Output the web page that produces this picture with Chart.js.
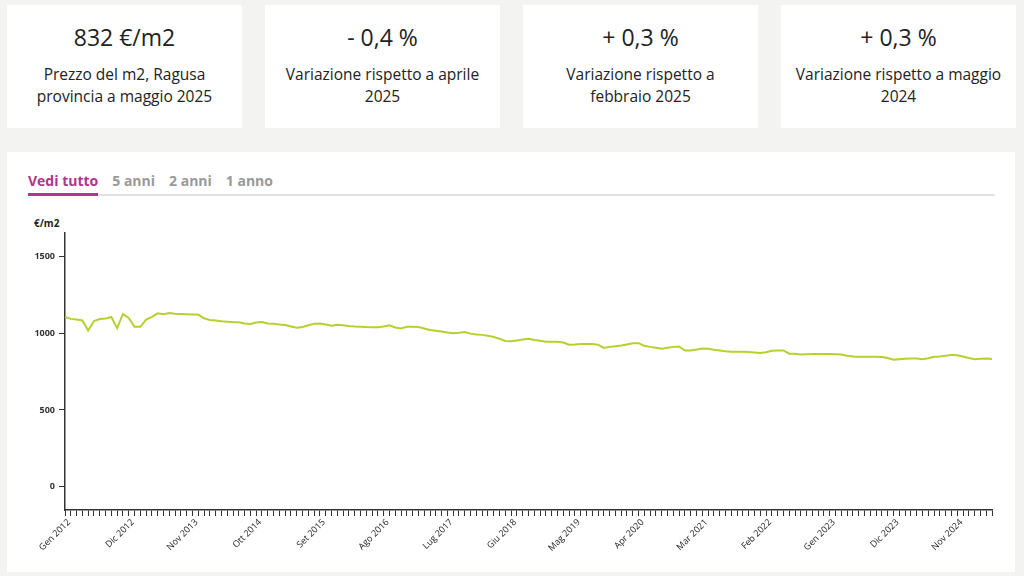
<!DOCTYPE html>
<html lang="it">
<head>
<meta charset="utf-8">
<title>Prezzo del m2, Ragusa provincia</title>
<script src="https://cdn.jsdelivr.net/npm/chart.js@4"></script>
<style>
  html, body { margin: 0; padding: 0; }
  body {
    width: 1024px; height: 576px; overflow: hidden; position: relative;
    background: #f3f3f1; font-family: "Open Sans", "Noto Sans", sans-serif; color: #222;
  }
  .card {
    position: absolute; top: 5px; width: 235px; height: 123px; background: #fff;
    text-align: center; box-sizing: border-box; padding: 0 6px; white-space: nowrap;
  }
  .card .big { margin-top: 17px; font-size: 23px; line-height: 30px; }
  .card .desc { margin-top: 11px; font-size: 15.5px; line-height: 22px; }
  .panel {
    position: absolute; left: 7px; top: 152px; width: 1008px; height: 420px; background: #fff;
  }
  .tabs { position: absolute; left: 21px; top: 19px; font-size: 14px; font-weight: bold; }
  .tabs span { margin-right: 14px; color: #999; }
  .tabs span.on { color: #b3338b; }
  .tabline { position: absolute; left: 21px; top: 42px; width: 967px; height: 2px; background: #e2e2e2; }
  .tabline div { position: absolute; left: 0; top: -1px; width: 70px; height: 3px; background: #b3338b; }
  .unit { position: absolute; left: 27px; top: 64px; font-size: 10px; font-weight: bold; color: #222; }
  #wrap { position: absolute; left: 0; top: 48px; width: 1008px; height: 372px; }
</style>
</head>
<body>
<div class="card" style="left:7px"><div class="big">832 €/m2</div><div class="desc">Prezzo del m2, Ragusa<br>provincia a maggio 2025</div></div>
<div class="card" style="left:265px"><div class="big">- 0,4 %</div><div class="desc">Variazione rispetto a aprile<br>2025</div></div>
<div class="card" style="left:523px"><div class="big">+ 0,3 %</div><div class="desc">Variazione rispetto a<br>febbraio 2025</div></div>
<div class="card" style="left:781px"><div class="big">+ 0,3 %</div><div class="desc">Variazione rispetto a maggio<br>2024</div></div>

<div class="panel">
  <div class="tabs"><span class="on">Vedi tutto</span><span>5 anni</span><span>2 anni</span><span>1 anno</span></div>
  <div class="tabline"><div></div></div>
  <div class="unit">€/m2</div>
  <div id="wrap"><canvas id="priceChart"></canvas></div>
</div>

<script>
// month names used in the axis labels
const monthNames = ['Gen', 'Feb', 'Mar', 'Apr', 'Mag', 'Giu', 'Lug', 'Ago', 'Set', 'Ott', 'Nov', 'Dic'];
const startYear = 2012;

// €/m2, monthly from Gen 2012 to Mag 2025
const prices = [
  1104, 1092, 1088, 1082, 1016, 1078, 1091, 1094, 1104, 1032, 1124, 1098,
  1040, 1040, 1087, 1105, 1128, 1122, 1130, 1126, 1124, 1122, 1120, 1120,
  1096, 1085, 1082, 1076, 1074, 1070, 1070, 1062, 1059, 1068, 1072, 1062,
  1061, 1056, 1052, 1042, 1034, 1039, 1050, 1060, 1062, 1056, 1048, 1054,
  1050, 1046, 1043, 1041, 1039, 1038, 1037, 1042, 1050, 1036, 1030, 1041,
  1041, 1039, 1030, 1020, 1015, 1010, 1004, 999, 1002, 1007, 996, 990,
  988, 982, 974, 963, 948, 946, 952, 958, 963, 955, 950, 944,
  943, 944, 938, 924, 925, 928, 928, 928, 924, 903, 910, 914,
  919, 926, 933, 934, 917, 910, 904, 898, 904, 910, 913, 886,
  887, 893, 899, 898, 892, 887, 881, 878, 878, 878, 876, 874,
  871, 875, 885, 886, 887, 866, 865, 861, 862, 863, 863, 863,
  863, 862, 860, 852, 848, 846, 846, 846, 846, 844, 838, 826,
  830, 833, 835, 834, 830, 836, 846, 848, 852, 858, 856, 848,
  838, 830, 833, 835, 832
];

const yTicks = [0, 500, 1000, 1500];
const labelEvery = 11; // a label every 11 months

const months = prices.map((_, i) => monthNames[i % 12] + ' ' + (startYear + Math.floor(i / 12)));

const ctx = document.getElementById('priceChart').getContext('2d');
new Chart(ctx, {
    type: 'line',
    data: {
        labels: months,
        datasets: [{
            data: prices,
            borderColor: '#b4d12f',
            borderWidth: 2,
            pointRadius: 0,
            tension: 0,
            fill: false
        }]
    },
    options: {
        responsive: true,
        maintainAspectRatio: false,
        animation: false,
        layout: { padding: { left: 18, top: 33, right: 23, bottom: 12 } },
        plugins: { legend: { display: false }, tooltip: { enabled: false } },
        scales: {
            x: {
                offset: false,
                grid: { drawOnChartArea: false, drawTicks: true, tickLength: 6, color: '#333', lineWidth: 1 },
                border: { display: true, color: '#333', width: 1.5 },
                ticks: {
                    autoSkip: false,
                    maxRotation: 45,
                    minRotation: 45,
                    padding: 1,
                    labelOffset: 4,
                    color: '#222',
                    font: { family: 'Open Sans', size: 9 },
                    callback: function (value, index) {
                        return index % labelEvery === 0 ? this.getLabelForValue(value) : '';
                    }
                },
                afterFit: function (scale) { scale.height = 50; }
            },
            y: {
                min: -150,
                max: 1650,
                afterBuildTicks: function (scale) { scale.ticks = yTicks.map(v => ({ value: v })); },
                afterFit: function (scale) { scale.width = 40; },
                grid: { drawOnChartArea: false, drawTicks: true, tickLength: 6, color: '#333', lineWidth: 1 },
                border: { display: true, color: '#333', width: 1.5 },
                ticks: {
                    padding: 4,
                    color: '#333',
                    font: { family: 'Open Sans', size: 9, weight: 'bold' },
                    callback: value => String(value)
                }
            }
        }
    }
});
</script>
</body>
</html>
